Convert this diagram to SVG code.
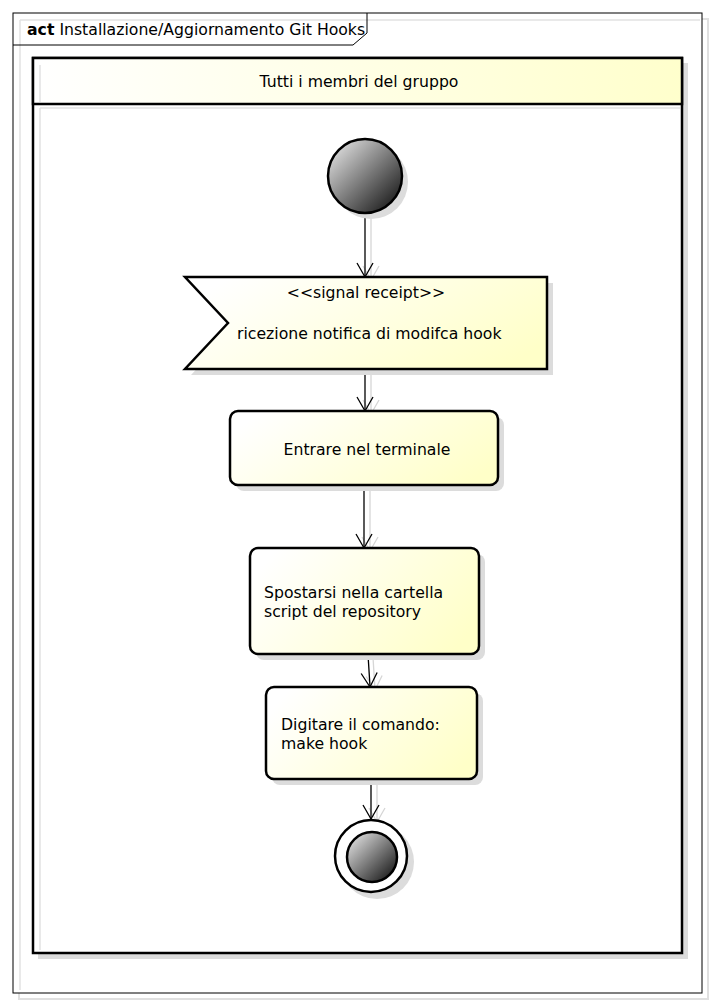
<svg xmlns="http://www.w3.org/2000/svg" width="714" height="1006" viewBox="0 0 714 1006">
<defs>
<linearGradient id="yel" x1="0" y1="0.3" x2="1" y2="0.7">
<stop offset="0" stop-color="#ffffff"/>
<stop offset="1" stop-color="#ffffc8"/>
</linearGradient>
<linearGradient id="hdr" x1="0" y1="0" x2="1" y2="0">
<stop offset="0" stop-color="#ffffff"/>
<stop offset="1" stop-color="#ffffcc"/>
</linearGradient>
<linearGradient id="ball" x1="0.15" y1="0.15" x2="0.85" y2="0.85">
<stop offset="0" stop-color="#d0d0d0"/>
<stop offset="1" stop-color="#2a2a2a"/>
</linearGradient>
<marker id="arr" markerWidth="20" markerHeight="20" refX="16" refY="8" orient="auto" markerUnits="userSpaceOnUse" overflow="visible">
<path d="M2,0 L16,8 L2,16" fill="none" stroke="#000" stroke-width="1.3"/>
</marker>
<marker id="arrS" markerWidth="20" markerHeight="20" refX="16" refY="8" orient="auto" markerUnits="userSpaceOnUse" overflow="visible">
<path d="M2,0 L16,8 L2,16" fill="none" stroke="#d6d6d6" stroke-width="1.3"/>
</marker>
</defs>
<style>
text{font-family:"DejaVu Sans","Noto Sans",sans-serif;font-size:15.7px;fill:#000}
.sh{fill:#dcdcdc;stroke:none}
.node{fill:url(#yel);stroke:#000;stroke-width:2.5}
.edge{stroke:#000;stroke-width:1.3;fill:none;marker-end:url(#arr)}
.edgeS{stroke:#d6d6d6;stroke-width:1.3;fill:none;marker-end:url(#arrS)}
.faint{stroke:#e2e2e2;stroke-width:1.5;fill:none}
</style>
<rect width="714" height="1006" fill="#fff"/>
<!-- frame -->
<g id="frame">
<rect x="19" y="19" width="689" height="980" fill="none" stroke="#e0e0e0" stroke-width="2"/>
<rect x="13" y="13" width="689" height="980" fill="#fff" stroke="#000" stroke-width="1"/>
<path class="faint" d="M20,20 H700 M20,20 V990"/>
<path d="M13,45 H353 L367,33 V13" fill="none" stroke="#000" stroke-width="1"/>
<text x="27" y="35"><tspan font-weight="bold">act</tspan> Installazione/Aggiornamento Git Hooks</text>
</g>
<!-- swimlane -->
<g id="lane">
<rect x="38" y="63" width="650" height="896" class="sh"/>
<rect x="33" y="58" width="649" height="895" fill="#fff" stroke="#000" stroke-width="2.5"/>
<rect x="33" y="58" width="649" height="46" fill="url(#hdr)" stroke="#000" stroke-width="2.5"/>
<path class="faint" d="M40,65 V102 M40,108 H680 M40,108 V950"/>
<text x="359" y="87" text-anchor="middle">Tutti i membri del gruppo</text>
</g>
<!-- connectors -->
<g id="connectors">
<line class="edgeS" x1="371" y1="216" x2="371" y2="280"/>
<line class="edge" x1="365" y1="213" x2="365" y2="277"/>
<line class="edgeS" x1="371" y1="372" x2="371" y2="414"/>
<line class="edge" x1="365" y1="369" x2="365" y2="411"/>
<line class="edgeS" x1="370" y1="489" x2="370" y2="551"/>
<line class="edge" x1="364" y1="486" x2="364" y2="548"/>
<line class="edgeS" x1="373" y1="657" x2="375" y2="690"/>
<line class="edge" x1="368" y1="654" x2="370" y2="687"/>
<line class="edgeS" x1="377" y1="782" x2="377" y2="822"/>
<line class="edge" x1="371" y1="779" x2="371" y2="819"/>
</g>
<!-- initial -->
<g id="initial">
<circle cx="371" cy="182" r="37" class="sh"/>
<circle cx="365" cy="176" r="37" fill="url(#ball)" stroke="#000" stroke-width="2.5"/>
</g>
<!-- signal receipt -->
<g id="signal">
<polygon points="191,283 553,283 553,375 191,375 234,329" class="sh"/>
<polygon points="185,277 547,277 547,369 185,369 228,323" class="node"/>
<text x="366" y="298" text-anchor="middle">&lt;&lt;signal receipt&gt;&gt;</text>
<text x="237" y="339">ricezione notifica di modifca hook</text>
</g>
<!-- action 1 -->
<g id="a1">
<rect x="236" y="417" width="268" height="74" rx="8" class="sh"/>
<rect x="230" y="411" width="268" height="74" rx="8" class="node"/>
<text x="367" y="455" text-anchor="middle">Entrare nel terminale</text>
</g>
<!-- action 2 -->
<g id="a2">
<rect x="256" y="554" width="229" height="106" rx="8" class="sh"/>
<rect x="250" y="548" width="229" height="106" rx="8" class="node"/>
<text x="264" y="598">Spostarsi nella cartella</text>
<text x="264" y="617">script del repository</text>
</g>
<!-- action 3 -->
<g id="a3">
<rect x="272" y="693" width="211" height="92" rx="8" class="sh"/>
<rect x="266" y="687" width="211" height="92" rx="8" class="node"/>
<text x="281" y="730">Digitare il comando:</text>
<text x="281" y="749">make hook</text>
</g>
<!-- final -->
<g id="final">
<circle cx="377" cy="862" r="37" class="sh"/>
<circle cx="371" cy="856" r="36" fill="#fff" stroke="#000" stroke-width="2.5"/>
<circle cx="372" cy="857" r="25" fill="url(#ball)" stroke="#000" stroke-width="2.5"/>
</g>
</svg>
